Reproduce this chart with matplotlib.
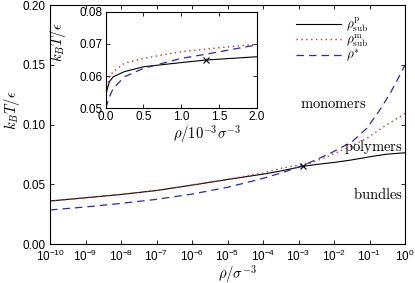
import numpy as np
import matplotlib.pyplot as plt
from matplotlib.font_manager import FontProperties

plt.rcParams['font.family'] = ['Liberation Sans', 'DejaVu Sans']
plt.rcParams['mathtext.fontset'] = 'custom'
plt.rcParams['mathtext.rm'] = 'Liberation Sans'
plt.rcParams['mathtext.it'] = 'Liberation Sans:italic'
plt.rcParams['mathtext.bf'] = 'Liberation Sans:bold'
plt.rcParams['xtick.direction'] = 'in'
plt.rcParams['ytick.direction'] = 'in'

# datos del panel principal (escala log)
rho_p = [1e-10, 1e-9, 1e-8, 1e-7, 1e-6, 1e-5, 1e-4, 3e-4, 1e-3, 1.3e-3, 3e-3, 1e-2, 3e-2, 1e-1, 3e-1, 1.0]
T_p = [0.0360, 0.0387, 0.0415, 0.0448, 0.0493, 0.0540, 0.0585, 0.0610, 0.0643, 0.0650, 0.0665, 0.0683, 0.0703, 0.0730, 0.0752, 0.0764]

rho_m = [1e-10, 1e-9, 1e-8, 1e-7, 1e-6, 1e-5, 3e-5, 1e-4, 3e-4, 1e-3, 2.1e-3, 6.2e-3, 2.8e-2, 8.3e-2, 2.45e-1, 1.0]
T_m = [0.0360, 0.0387, 0.0415, 0.0448, 0.0494, 0.0542, 0.0567, 0.0595, 0.0632, 0.0660, 0.0675, 0.0730, 0.0814, 0.0884, 0.0980, 0.1093]

rho_s = [1e-10, 1e-9, 1e-8, 1e-7, 1e-6, 3e-6, 1e-5, 3.5e-5, 1e-4, 3.7e-4, 1.4e-3, 7.8e-3, 3.2e-2, 8.3e-2, 1.8e-1, 3.8e-1, 1.0]
T_s = [0.0285, 0.0310, 0.0340, 0.0374, 0.0418, 0.0445, 0.0475, 0.0515, 0.0550, 0.0600, 0.0660, 0.0759, 0.0856, 0.0968, 0.1107, 0.1260, 0.1498]

cross_rho = 1.3e-3
cross_T = 0.065

# datos del inset (rho en 10^-3)
ri_p = [0.0, 0.003, 0.01, 0.05, 0.1, 0.25, 0.5, 1.0, 1.33, 2.0]
Ti_p = [0.0500, 0.0525, 0.0552, 0.0583, 0.0598, 0.0614, 0.0629, 0.0642, 0.0650, 0.0660]

ri_m = [0.0, 0.005, 0.02, 0.05, 0.1, 0.25, 0.5, 1.0, 1.5, 2.0]
Ti_m = [0.0505, 0.0530, 0.0565, 0.0598, 0.0614, 0.0640, 0.0655, 0.0676, 0.0688, 0.0699]

ri_s = [0.0, 0.02, 0.05, 0.1, 0.25, 0.5, 1.0, 1.33, 2.0]
Ti_s = [0.0500, 0.0515, 0.0536, 0.0562, 0.0598, 0.0624, 0.0655, 0.0668, 0.0697]

red = '#c83232'
blue = '#2828b4'

fig = plt.figure(figsize=(4.15, 2.83), dpi=100)
ax = fig.add_axes([0.1205, 0.1378, 0.8555, 0.844])

ax.plot(rho_p, T_p, color='black', lw=0.8, label=r'$\rho^{\rm p}_{\rm sub}$')
ax.plot(rho_m, T_m, color=red, lw=1.0, linestyle=(0, (1, 2.5)), label=r'$\rho^{\rm m}_{\rm sub}$')
ax.plot(rho_s, T_s, color=blue, lw=0.9, linestyle=(0, (6, 4)), label=r'$\rho^{*}$')
ax.plot([cross_rho], [cross_T], marker='x', color='black', ms=5, mew=0.8)

ax.set_xscale('log')
ax.set_xlim(1e-10, 1)
ax.set_ylim(0, 0.2)
ax.set_xticks([10.0**k for k in range(-10, 1)])
ax.minorticks_off()
ax.set_yticks([0, 0.05, 0.1, 0.15, 0.2])
ax.set_yticklabels(['0.00', '0.05', '0.10', '0.15', '0.20'])
ax.tick_params(labelsize=8.5, top=True, right=True, length=3, width=0.6)
ax.set_xlabel(r'$\rho/\sigma^{-3}$', fontsize=10.5, math_fontfamily='cm')
ax.xaxis.set_label_coords(0.528, -0.078)
ax.set_ylabel(r'$k_BT/\epsilon$', fontsize=10.5, math_fontfamily='cm')
ax.yaxis.set_label_coords(-0.08, 0.56)

tf = dict(transform=ax.transAxes, fontsize=10.5, ha='center', va='center', math_fontfamily='cm')
ax.text(0.797, 0.585, r'$\mathrm{monomers}$', **tf)
ax.text(0.91, 0.405, r'$\mathrm{polymers}$', **tf)
ax.text(0.925, 0.21, r'$\mathrm{bundles}$', **tf)

ax.legend(loc='upper right', bbox_to_anchor=(0.93, 1.01), frameon=False,
          prop=FontProperties(size=9.5, math_fontfamily='cm'),
          handlelength=3.4, labelspacing=-0.1, handletextpad=0.4)

# inset
axi = fig.add_axes([0.2547, 0.6173, 0.3639, 0.3414])
axi.plot(ri_p, Ti_p, color='black', lw=0.8)
axi.plot(ri_m, Ti_m, color=red, lw=1.0, linestyle=(0, (1, 2.5)))
axi.plot(ri_s, Ti_s, color=blue, lw=0.9, linestyle=(0, (6, 4)))
axi.plot([1.33], [0.065], marker='x', color='black', ms=5, mew=0.8)
axi.set_xlim(0, 2)
axi.set_ylim(0.05, 0.08)
axi.set_xticks([0, 0.5, 1.0, 1.5, 2.0])
axi.set_yticks([0.05, 0.06, 0.07, 0.08])
axi.set_yticklabels(['0.05', '0.06', '0.07', '0.08'])
axi.tick_params(labelsize=8.5, top=True, right=True, length=3, width=0.6, pad=2)
axi.set_xlabel(r'$\rho/10^{-3}\sigma^{-3}$', fontsize=10.5, math_fontfamily='cm')
axi.xaxis.set_label_coords(0.67, -0.15)
axi.set_ylabel(r'$k_BT/\epsilon$', fontsize=10.5, math_fontfamily='cm')
axi.yaxis.set_label_coords(-0.25, 0.68)

fig.savefig('out.png', dpi=100)
